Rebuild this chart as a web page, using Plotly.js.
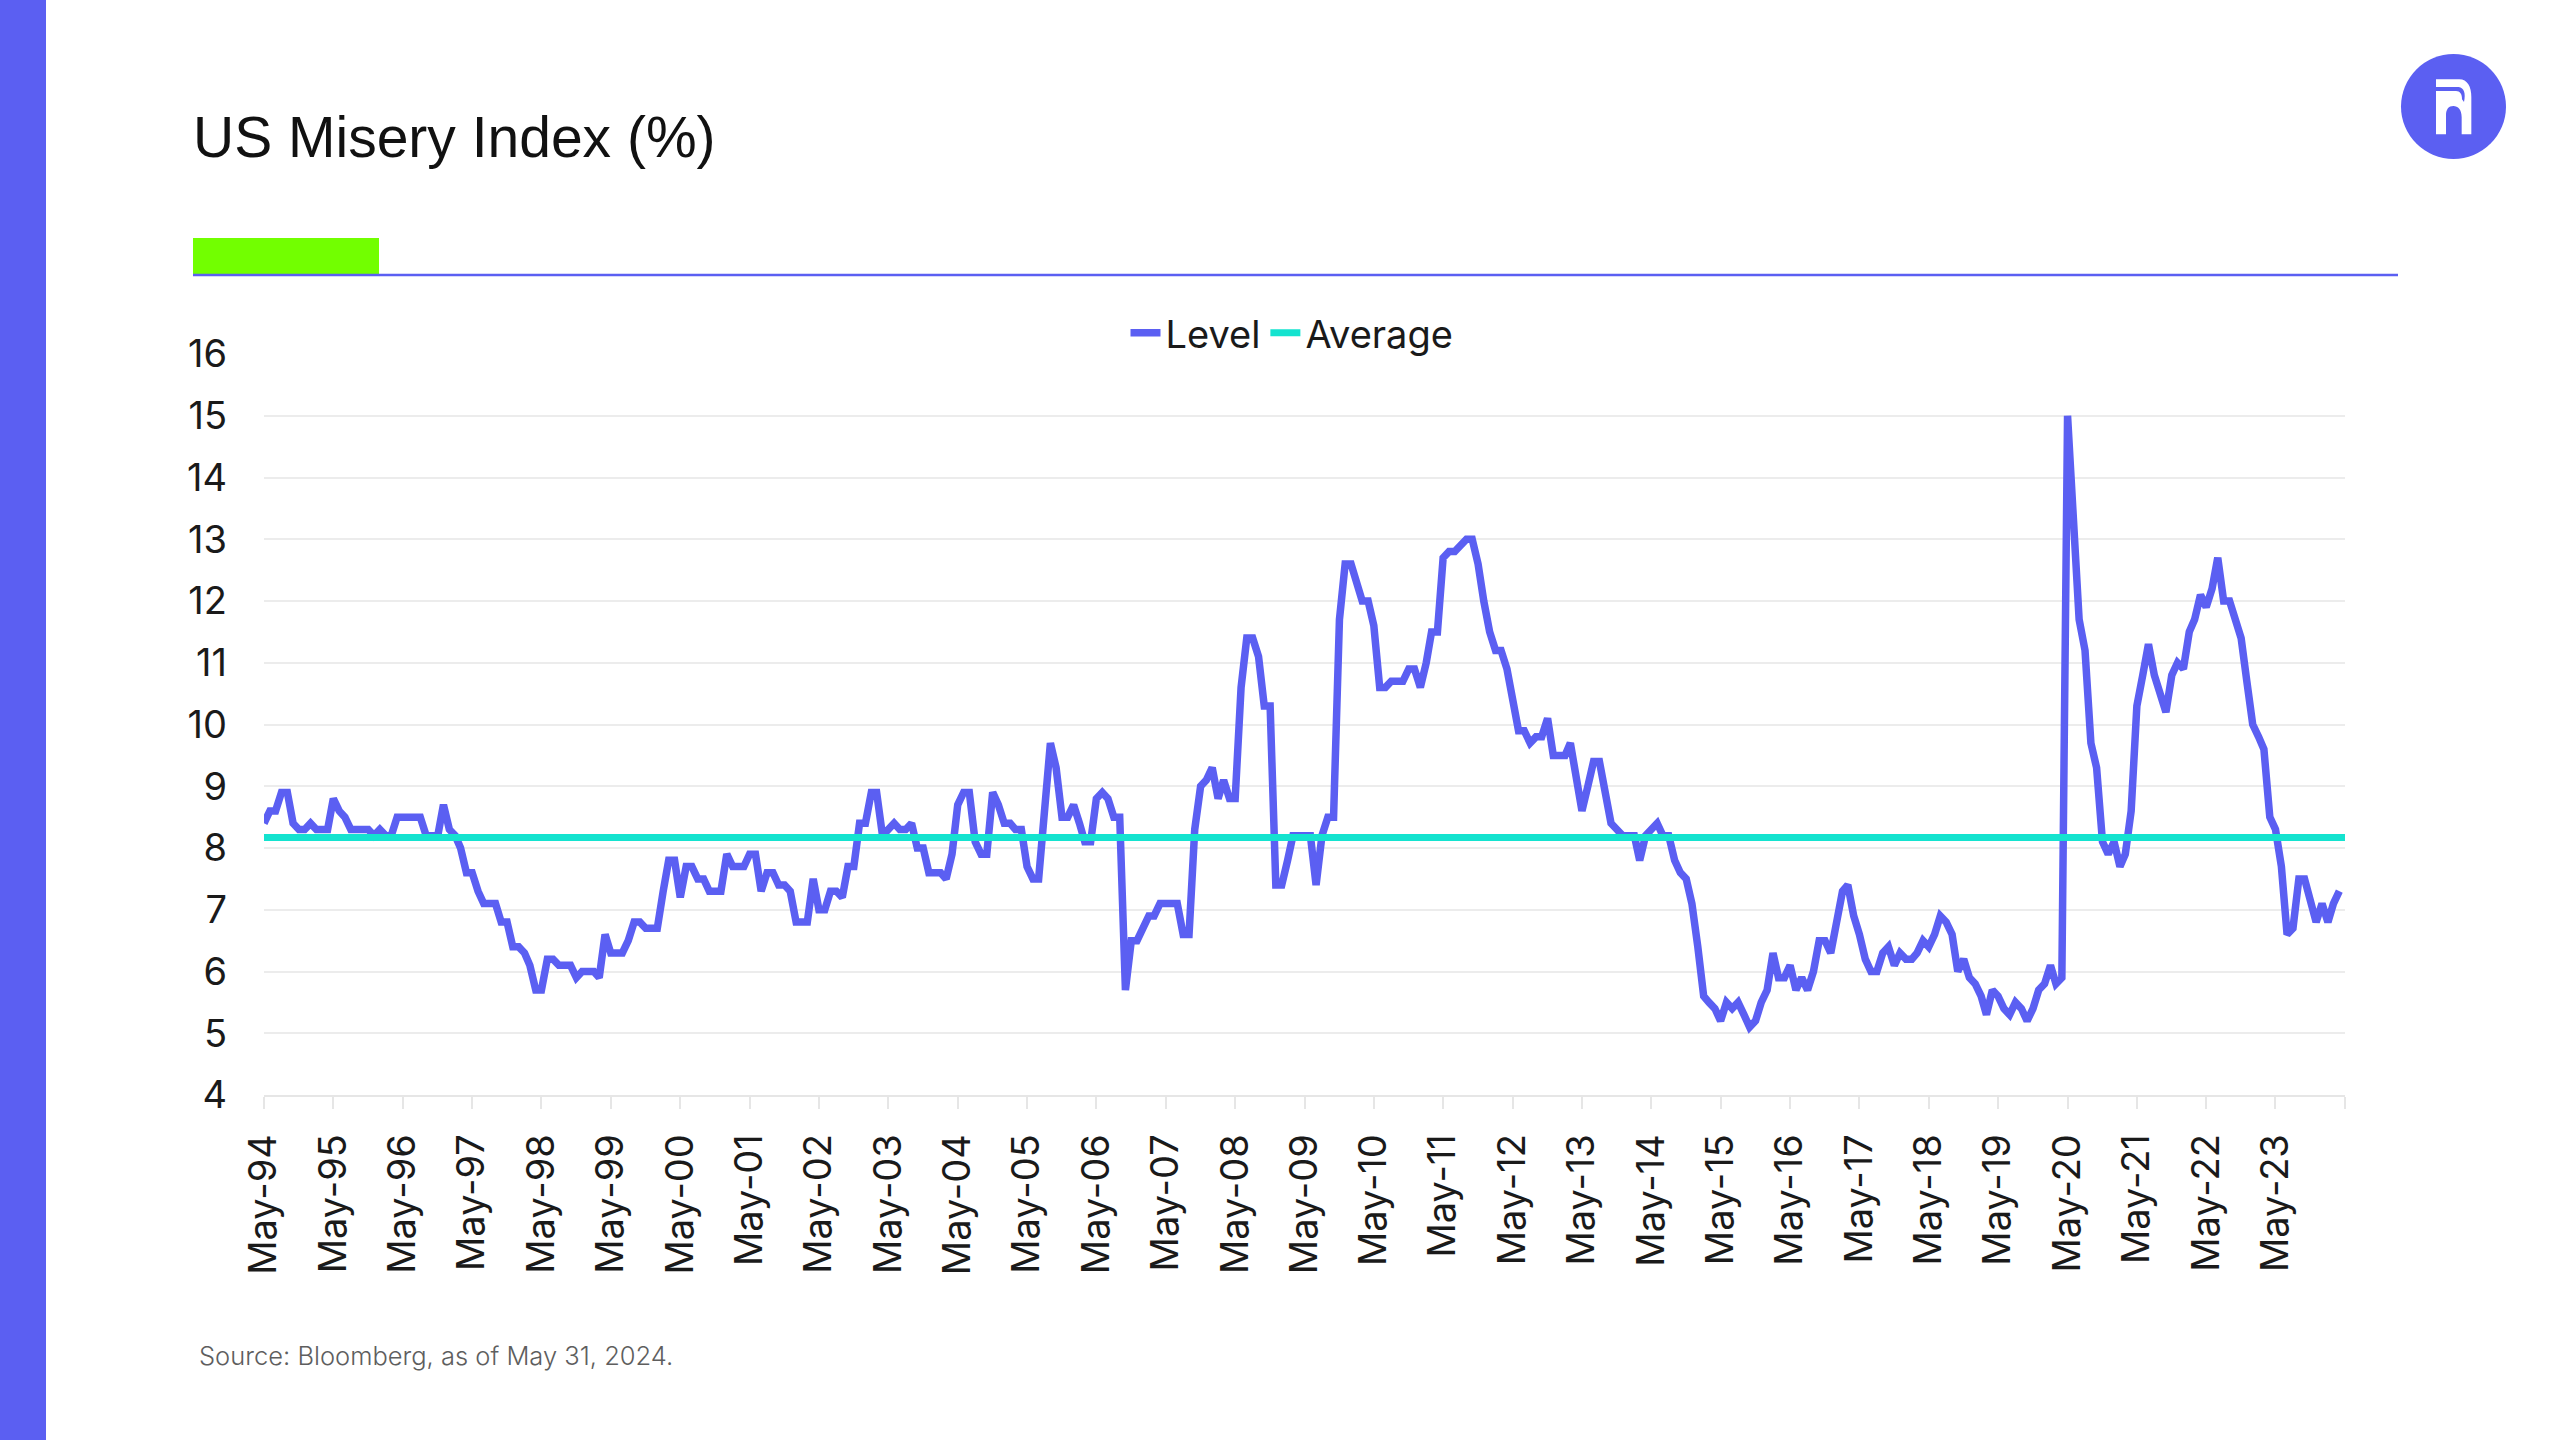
<!DOCTYPE html>
<html>
<head>
<meta charset="utf-8">
<script src="https://cdn.plot.ly/plotly-3.0.1.min.js"></script>
<style>
  html, body { margin: 0; padding: 0; background: #ffffff; }
  #chart { width: 2560px; height: 1440px; }
</style>
</head>
<body>
<div id="chart"></div>
<script>
// ---------------- DATA ----------------
const startYear = 1994;
const startMonth = 5;   // May-94
const monthCount = 360; // May-94 .. Apr-24

// US Misery Index level (%), monthly, one row per May..Apr year
const levelValues = [
  8.4, 8.6, 8.6, 8.9, 8.9, 8.4, 8.3, 8.3, 8.4, 8.3, 8.3, 8.3,        // May-94
  8.8, 8.6, 8.5, 8.3, 8.3, 8.3, 8.3, 8.2, 8.3, 8.2, 8.2, 8.5,        // May-95
  8.5, 8.5, 8.5, 8.5, 8.2, 8.2, 8.2, 8.7, 8.3, 8.2, 8.0, 7.6,        // May-96
  7.6, 7.3, 7.1, 7.1, 7.1, 6.8, 6.8, 6.4, 6.4, 6.3, 6.1, 5.7,        // May-97
  5.7, 6.2, 6.2, 6.1, 6.1, 6.1, 5.9, 6.0, 6.0, 6.0, 5.9, 6.6,        // May-98
  6.3, 6.3, 6.3, 6.5, 6.8, 6.8, 6.7, 6.7, 6.7, 7.3, 7.8, 7.8,        // May-99
  7.2, 7.7, 7.7, 7.5, 7.5, 7.3, 7.3, 7.3, 7.9, 7.7, 7.7, 7.7,        // May-00
  7.9, 7.9, 7.3, 7.6, 7.6, 7.4, 7.4, 7.3, 6.8, 6.8, 6.8, 7.5,        // May-01
  7.0, 7.0, 7.3, 7.3, 7.2, 7.7, 7.7, 8.4, 8.4, 8.9, 8.9, 8.2,        // May-02
  8.3, 8.4, 8.3, 8.3, 8.4, 8.0, 8.0, 7.6, 7.6, 7.6, 7.5, 7.9,        // May-03
  8.7, 8.9, 8.9, 8.1, 7.9, 7.9, 8.9, 8.7, 8.4, 8.4, 8.3, 8.3,        // May-04
  7.7, 7.5, 7.5, 8.6, 9.7, 9.3, 8.5, 8.5, 8.7, 8.4, 8.1, 8.1,        // May-05
  8.8, 8.9, 8.8, 8.5, 8.5, 5.7, 6.5, 6.5, 6.7, 6.9, 6.9, 7.1,        // May-06
  7.1, 7.1, 7.1, 6.6, 6.6, 8.3, 9.0, 9.1, 9.3, 8.8, 9.1, 8.8,        // May-07
  8.8, 10.6, 11.4, 11.4, 11.1, 10.3, 10.3, 7.4, 7.4, 7.8, 8.2, 8.2,  // May-08
  8.2, 8.2, 7.4, 8.2, 8.5, 8.5, 11.7, 12.6, 12.6, 12.3, 12.0, 12.0,  // May-09
  11.6, 10.6, 10.6, 10.7, 10.7, 10.7, 10.9, 10.9, 10.6, 11.0, 11.5, 11.5, // May-10
  12.7, 12.8, 12.8, 12.9, 13.0, 13.0, 12.6, 12.0, 11.5, 11.2, 11.2, 10.9, // May-11
  10.4, 9.9, 9.9, 9.7, 9.8, 9.8, 10.1, 9.5, 9.5, 9.5, 9.7, 9.2,      // May-12
  8.6, 9.0, 9.4, 9.4, 8.8, 8.4, 8.3, 8.2, 8.2, 8.2, 7.8, 8.2,        // May-13
  8.3, 8.4, 8.2, 8.2, 7.8, 7.6, 7.5, 7.1, 6.4, 5.6, 5.5, 5.4,        // May-14
  5.2, 5.5, 5.4, 5.5, 5.3, 5.1, 5.2, 5.5, 5.7, 6.3, 5.9, 5.9,        // May-15
  6.1, 5.7, 5.9, 5.7, 6.0, 6.5, 6.5, 6.3, 6.8, 7.3, 7.4, 6.9,        // May-16
  6.6, 6.2, 6.0, 6.0, 6.3, 6.4, 6.1, 6.3, 6.2, 6.2, 6.3, 6.5,        // May-17
  6.4, 6.6, 6.9, 6.8, 6.6, 6.0, 6.2, 5.9, 5.8, 5.6, 5.3, 5.7,        // May-18
  5.6, 5.4, 5.3, 5.5, 5.4, 5.2, 5.4, 5.7, 5.8, 6.1, 5.8, 5.9,        // May-19
  15.0, 13.3, 11.7, 11.2, 9.7, 9.3, 8.1, 7.9, 8.1, 7.7, 7.9, 8.6,    // May-20
  10.3, 10.8, 11.3, 10.8, 10.5, 10.2, 10.8, 11.0, 10.9, 11.5, 11.7, 12.1, // May-21
  11.9, 12.2, 12.7, 12.0, 12.0, 11.7, 11.4, 10.7, 10.0, 9.8, 9.6, 8.5,   // May-22
  8.3, 7.7, 6.6, 6.7, 7.5, 7.5, 7.1, 6.8, 7.1, 6.8, 7.1, 7.3         // May-23
];

const averageValue = 8.17;

const tickLabels = [
  'May-94','May-95','May-96','May-97','May-98','May-99','May-00','May-01',
  'May-02','May-03','May-04','May-05','May-06','May-07','May-08','May-09',
  'May-10','May-11','May-12','May-13','May-14','May-15','May-16','May-17',
  'May-18','May-19','May-20','May-21','May-22','May-23',''
];

const seriesNames = ['Level', 'Average'];
const titleText = 'US Misery Index (%)';
const sourceText = 'Source: Bloomberg, as of May 31, 2024.';

// ------------- month categories (dates) -------------
function monthDate(k) {
  const m0 = startMonth - 1 + k;
  const y = startYear + Math.floor(m0 / 12);
  const m = (m0 % 12) + 1;
  return y + '-' + String(m).padStart(2, '0') + '-01';
}
const months = [];
for (let k = 0; k < monthCount; k++) months.push(monthDate(k));
const axisEnd = monthDate(monthCount);
const tickDates = tickLabels.map((_, j) => monthDate(12 * j));

// ------------- geometry helpers -------------
const W = 2560, H = 1440;
const PL = 264, PR = 2345, PT = 354, PB = 1095;
const px = x => (x - PL) / (PR - PL);
const py = y => (PB - y) / (PB - PT);

const violet = '#5b5ff2';
const teal = '#14e3cf';

// logo "R" path, defined in a local (x3) box
const LX = 2380, LY = 40;
const P = (zx, zy) => px(LX + zx / 3) + ',' + py(LY + zy / 3);
const rPath = 'M' + P(168,118) + ' L' + P(238,118) +
  ' C' + P(262,118) + ' ' + P(274,140) + ' ' + P(274,172) +
  ' L' + P(274,283) + ' L' + P(245,283) + ' L' + P(245,232) +
  ' C' + P(245,208) + ' ' + P(234,198) + ' ' + P(220,198) +
  ' C' + P(206,198) + ' ' + P(198,208) + ' ' + P(198,225) +
  ' L' + P(198,283) + ' L' + P(168,283) + ' Z';
const cutPath = 'M' + P(165,141) + ' L' + P(236,141) +
  ' C' + P(252,143) + ' ' + P(258,160) + ' ' + P(252,186) +
  ' L' + P(246,178) +
  ' C' + P(246,162) + ' ' + P(240,153) + ' ' + P(228,153) +
  ' L' + P(165,153) + ' Z';

const traces = [
  {
    type: 'scatter', mode: 'lines', name: seriesNames[0],
    x: months, y: levelValues,
    line: { color: violet, width: 7.5, shape: 'linear' },
    hoverinfo: 'x+y'
  },
  {
    type: 'scatter', mode: 'lines', name: seriesNames[1],
    x: [months[0], axisEnd], y: [averageValue, averageValue],
    line: { color: teal, width: 7 },
    hoverinfo: 'y'
  }
];

const baseFont = 'Inter, "Noto Sans", "Liberation Sans", sans-serif';

const layout = {
  width: W, height: H,
  paper_bgcolor: '#ffffff', plot_bgcolor: '#ffffff',
  margin: { l: PL, r: W - PR, t: PT, b: H - PB, pad: 0, autoexpand: false },
  font: { family: baseFont, color: '#1a1a1a', size: 38 },
  title: {
    text: titleText,
    xref: 'container', yref: 'container',
    x: 193 / W, xanchor: 'left',
    y: 1 - 137 / H, yanchor: 'middle',
    font: { family: '"Liberation Sans", Arial, sans-serif', size: 57, color: '#111111' }
  },
  showlegend: true,
  legend: {
    orientation: 'h',
    x: px(1292), xanchor: 'center',
    y: py(333), yanchor: 'middle',
    font: { family: baseFont, size: 38, color: '#1a1a1a' },
    bgcolor: 'rgba(0,0,0,0)',
    itemwidth: 30, tracegroupgap: 0,
    itemclick: false, itemdoubleclick: false
  },
  xaxis: {
    type: 'date',
    range: [months[0], axisEnd],
    tickmode: 'array',
    tickvals: tickDates,
    ticktext: tickLabels,
    tickangle: -90,
    ticks: 'outside', ticklen: 12, tickwidth: 2, tickcolor: '#e6e6e6',
    ticklabelstandoff: 10,
    showgrid: false,
    showline: true, linecolor: '#e6e6e6', linewidth: 2,
    zeroline: false,
    tickfont: { family: baseFont, size: 38, color: '#1a1a1a' },
    automargin: false,
    fixedrange: true
  },
  yaxis: {
    range: [4, 16],
    tickmode: 'linear', tick0: 4, dtick: 1,
    ticks: '',
    ticklabelstandoff: 36,
    showgrid: true, gridcolor: '#ececec', gridwidth: 2,
    zeroline: false, showline: false,
    tickfont: { family: baseFont, size: 38, color: '#1a1a1a' },
    automargin: false,
    fixedrange: true
  },
  shapes: [
    { type: 'rect', xref: 'paper', yref: 'paper',
      x0: px(0), x1: px(46), y0: py(0), y1: py(H),
      fillcolor: violet, line: { width: 0 } },
    { type: 'rect', xref: 'paper', yref: 'paper',
      x0: px(193), x1: px(379), y0: py(274), y1: py(238),
      fillcolor: '#72ff00', line: { width: 0 } },
    { type: 'line', xref: 'paper', yref: 'paper',
      x0: px(193), x1: px(2398), y0: py(275), y1: py(275),
      line: { color: violet, width: 2.5 } },
    { type: 'circle', xref: 'paper', yref: 'paper',
      x0: px(2401), x1: px(2506), y0: py(159), y1: py(54),
      fillcolor: violet, line: { width: 0 } },
    { type: 'path', xref: 'paper', yref: 'paper', path: rPath,
      fillcolor: '#ffffff', line: { width: 0 } },
    { type: 'path', xref: 'paper', yref: 'paper', path: cutPath,
      fillcolor: violet, line: { width: 0 } }
  ],
  annotations: [
    { xref: 'paper', yref: 'paper',
      x: px(197), xanchor: 'left',
      y: py(1355), yanchor: 'middle',
      text: sourceText, showarrow: false,
      font: { family: baseFont, size: 25.5, color: '#5e5e5e', weight: 300 } }
  ]
};

Plotly.newPlot('chart', traces, layout, { displayModeBar: false, staticPlot: true });
</script>
</body>
</html>
